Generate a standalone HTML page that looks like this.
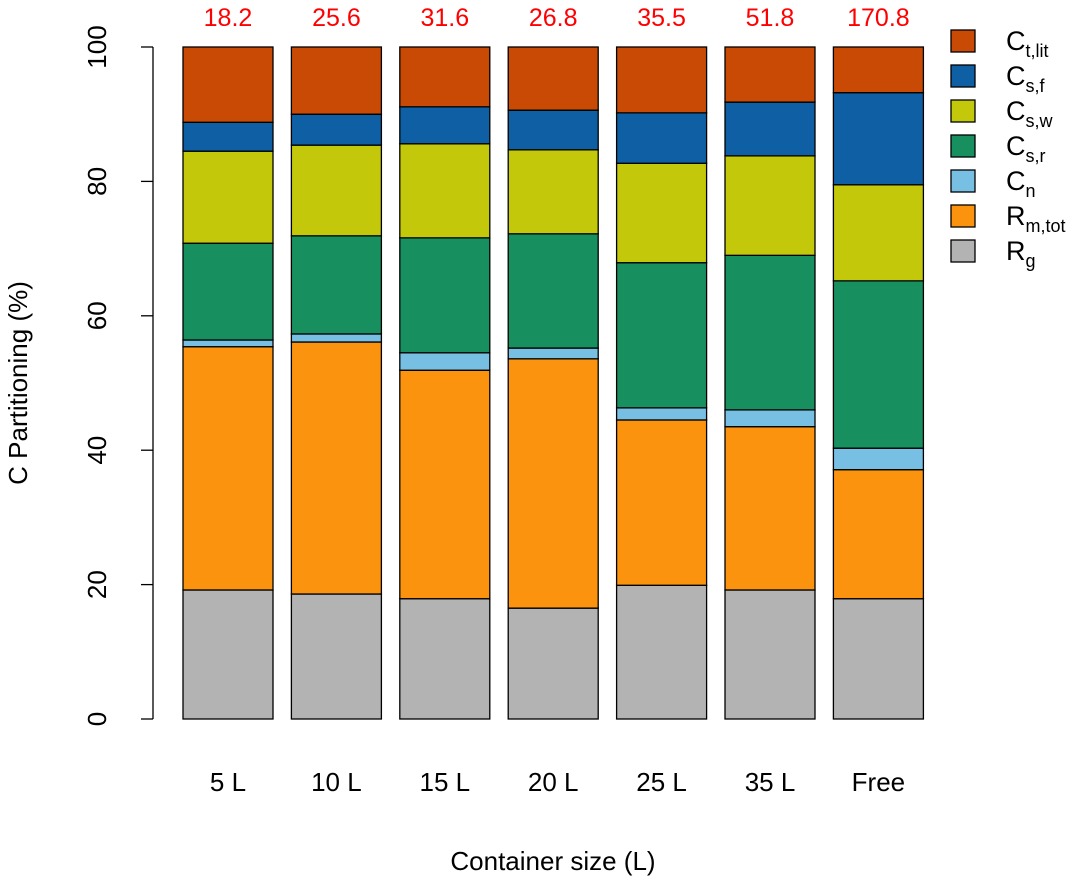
<!DOCTYPE html>
<html><head><meta charset="utf-8"><style>
body{margin:0;background:#fff}
svg{display:block;font-family:"Liberation Sans",Arial,sans-serif}
</style></head><body>
<svg id="chart" width="1082" height="880">
<line x1="153" y1="47" x2="153" y2="719" stroke="#000" stroke-width="1.3"/>
<g id="yticks"></g><g id="bars"></g><g id="legend"></g>
<text x="27" y="383" transform="rotate(-90 27 383)" text-anchor="middle" font-size="26">C Partitioning (%)</text>
<text x="553" y="870" text-anchor="middle" font-size="26">Container size (L)</text>
</svg>
<script>
const categories=["5 L","10 L","15 L","20 L","25 L","35 L","Free"];
const totals=["18.2","25.6","31.6","26.8","35.5","51.8","170.8"];
const Rg=[19.2,18.6,17.9,16.5,19.9,19.2,17.9];
const Rm=[36.2,37.5,34.0,37.1,24.6,24.3,19.2];
const Cn=[1.0,1.2,2.6,1.6,1.8,2.5,3.2];
const Csr=[14.4,14.6,17.1,17.0,21.6,23.0,24.9];
const Csw=[13.7,13.5,14.0,12.5,14.8,14.8,14.3];
const Csf=[4.3,4.6,5.5,5.9,7.5,8.0,13.7];
const Clit=[11.2,10.0,8.9,9.4,9.8,8.2,6.8];
const yTicks=[0,20,40,60,80,100];
const series=[
 {name:"rg",data:Rg,color:"#B3B3B3",main:"R",sub:"g"},
 {name:"rm-tot",data:Rm,color:"#FC930F",main:"R",sub:"m,tot"},
 {name:"cn",data:Cn,color:"#77C0E3",main:"C",sub:"n"},
 {name:"cs-r",data:Csr,color:"#178F5F",main:"C",sub:"s,r"},
 {name:"cs-w",data:Csw,color:"#C4C80A",main:"C",sub:"s,w"},
 {name:"cs-f",data:Csf,color:"#0F5FA5",main:"C",sub:"s,f"},
 {name:"ct-lit",data:Clit,color:"#C94A05",main:"C",sub:"t,lit"}
];
const NS="http://www.w3.org/2000/svg";
const y=v=>719-v*6.72;
const xL=i=>183+i*108.4;
const bw=90;
function mk(t,a,p){const e=document.createElementNS(NS,t);for(const k in a)e.setAttribute(k,a[k]);p.appendChild(e);return e;}
const yt=document.getElementById('yticks');
yTicks.forEach(v=>{
 const l=mk('line',{x1:141,x2:153,y1:y(v),y2:y(v),stroke:'#000','stroke-width':1.3},yt);
 
 
 const t=mk('text',{x:106,y:y(v),'font-size':26,'text-anchor':'middle',transform:`rotate(-90 106 ${y(v)})`},yt);
 
 
 t.textContent=v;
});
const bg=document.getElementById('bars');
categories.forEach((c,i)=>{
 let cum=0;
 series.forEach(s=>{
  const v=s.data[i];
  const r=mk('rect',{x:xL(i),y:y(cum+v),width:bw,height:v*6.72,fill:s.color,stroke:'#000','stroke-width':1.3},bg);
  
  
  cum+=v;
 });
 const t=mk('text',{x:xL(i)+bw/2,y:791,'font-size':26,'text-anchor':'middle'},bg);
 
 
 t.textContent=c;
 const tt=mk('text',{x:xL(i)+bw/2,y:26,'font-size':25,'text-anchor':'middle',fill:'#F00'},bg);
 
 
 tt.textContent=totals[i];
});
const lg=document.getElementById('legend');
series.slice().reverse().forEach((s,k)=>{
 const cy=41+k*35;
 const r=mk('rect',{x:951,y:cy-11,width:24,height:22,fill:s.color,stroke:'#000','stroke-width':1.3},lg);
 
 
 const t=mk('text',{x:1006,y:cy+9,'font-size':27},lg);
 
 
 t.textContent=s.main;
 const ts=mk('tspan',{'font-size':18,dy:7},t);
 ts.textContent=s.sub;
});
</script>
</body></html>
